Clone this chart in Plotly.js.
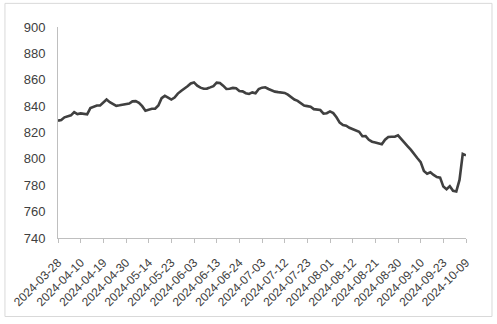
<!DOCTYPE html>
<html>
<head>
<meta charset="utf-8">
<script src="https://cdn.plot.ly/plotly-3.0.1.min.js"></script>
<style>
html,body{margin:0;padding:0;background:#fff;}
#chart{width:497px;height:324px;}
</style>
</head>
<body>
<div id="chart"></div>
<script>
var dates = [
"2024-03-28","2024-03-29",
"2024-04-01","2024-04-02","2024-04-03","2024-04-08","2024-04-09","2024-04-10","2024-04-11","2024-04-12",
"2024-04-15","2024-04-16","2024-04-17","2024-04-18","2024-04-19","2024-04-22","2024-04-23","2024-04-24","2024-04-25","2024-04-26",
"2024-04-29","2024-04-30",
"2024-05-06","2024-05-07","2024-05-08","2024-05-09","2024-05-10","2024-05-13","2024-05-14","2024-05-15","2024-05-16","2024-05-17",
"2024-05-20","2024-05-21","2024-05-22","2024-05-23","2024-05-24","2024-05-27","2024-05-28","2024-05-29","2024-05-30","2024-05-31",
"2024-06-03","2024-06-04","2024-06-05","2024-06-06","2024-06-07","2024-06-11","2024-06-12","2024-06-13","2024-06-14",
"2024-06-17","2024-06-18","2024-06-19","2024-06-20","2024-06-21","2024-06-24","2024-06-25","2024-06-26","2024-06-27","2024-06-28",
"2024-07-01","2024-07-02","2024-07-03","2024-07-04","2024-07-05","2024-07-08","2024-07-09","2024-07-10","2024-07-11","2024-07-12",
"2024-07-15","2024-07-16","2024-07-17","2024-07-18","2024-07-19","2024-07-22","2024-07-23","2024-07-24","2024-07-25","2024-07-26",
"2024-07-29","2024-07-30","2024-07-31",
"2024-08-01","2024-08-02","2024-08-05","2024-08-06","2024-08-07","2024-08-08","2024-08-09","2024-08-12","2024-08-13","2024-08-14",
"2024-08-15","2024-08-16","2024-08-19","2024-08-20","2024-08-21","2024-08-22","2024-08-23","2024-08-26","2024-08-27","2024-08-28",
"2024-08-29","2024-08-30",
"2024-09-02","2024-09-03","2024-09-04","2024-09-05","2024-09-06","2024-09-09","2024-09-10","2024-09-11","2024-09-12","2024-09-13",
"2024-09-18","2024-09-19","2024-09-20","2024-09-23","2024-09-24","2024-09-25","2024-09-26","2024-09-27","2024-09-30",
"2024-10-08","2024-10-09"
];

var values = [
829, 829.5, 831.5, 832.5, 833, 835.5, 834, 834.5, 834, 833.8,
838.5, 839.5, 840.5, 840.5, 842.5, 845, 843, 841.5, 840.2, 840.6,
841, 841.4, 842, 843.6, 843.8, 842.5, 840, 836.5, 837.5, 838,
838, 840.5, 846, 847.8, 846.5, 845, 846.5, 849.5, 851.5, 853,
855, 857.2, 858, 855.5, 854, 853.2, 853.3, 854.2, 855.2, 857.8,
857.6, 855.5, 853, 853.2, 853.8, 853.6, 851.5, 851.2, 849.8, 849.2,
850.4, 849.7, 853, 854, 854.3, 853, 851.8, 851, 850.6, 850.5,
850, 848.7, 846.5, 845, 844, 842.5, 840.5, 840, 839.5, 837.7,
837.2, 837, 834.3, 834.6, 836, 834.7, 831.5, 827.5, 825.6, 825.2,
823.6, 822.7, 822, 820.5, 817.2, 817.3, 814.5, 813, 812.4, 811.9,
811, 814.5, 816.6, 816.8, 816.8, 817.8, 815.3, 812.5, 809.5, 806.8,
804, 800.5, 797.5, 790.8, 788.8, 789.8, 787.8, 786.2, 785.8, 779,
777, 779.3, 775.8, 775.3, 784, 803.8, 802.7
];

var xTickLabels = [
"2024-03-28","2024-04-10","2024-04-19","2024-04-30","2024-05-14","2024-05-23","2024-06-03",
"2024-06-13","2024-06-24","2024-07-03","2024-07-12","2024-07-23","2024-08-01","2024-08-12",
"2024-08-21","2024-08-30","2024-09-10","2024-09-23","2024-10-09"
];

var yTickVals = [740, 760, 780, 800, 820, 840, 860, 880, 900];

var trace = {
  x: dates,
  y: values,
  type: 'scatter',
  mode: 'lines',
  line: {color: '#404040', width: 2.6},
  hoverinfo: 'x+y'
};

var layout = {
  width: 497,
  height: 324,
  margin: {l: 58, r: 31, t: 27, b: 86, pad: 0},
  paper_bgcolor: '#ffffff',
  plot_bgcolor: '#ffffff',
  showlegend: false,
  font: {family: '"Liberation Sans", Arial, sans-serif', size: 12, color: '#404040'},
  xaxis: {
    type: 'category',
    range: [0, dates.length - 1],
    tickmode: 'array',
    tickvals: xTickLabels,
    ticktext: xTickLabels,
    tickangle: -45,
    ticks: 'outside',
    ticklen: 4,
    tickcolor: '#bfbfbf',
    tickwidth: 1,
    ticklabelstandoff: 8,
    showline: true,
    linecolor: '#bfbfbf',
    linewidth: 1,
    showgrid: false,
    zeroline: false,
    automargin: false,
    tickfont: {size: 12, color: '#404040'}
  },
  yaxis: {
    range: [740, 900],
    tickmode: 'array',
    tickvals: yTickVals,
    ticktext: yTickVals.map(String),
    ticks: 'outside',
    ticklen: 9,
    tickcolor: 'rgba(0,0,0,0)',
    showline: true,
    linecolor: '#bfbfbf',
    linewidth: 1,
    showgrid: false,
    zeroline: false,
    automargin: false,
    tickfont: {size: 13, color: '#404040'}
  },
  shapes: [{
    type: 'rect',
    xref: 'paper', yref: 'paper',
    x0: -0.13, x1: 1.0637,
    y0: -0.372, y1: 1.112,
    line: {color: '#d9d9d9', width: 1},
    fillcolor: 'rgba(0,0,0,0)',
    layer: 'below'
  }]
};

Plotly.newPlot('chart', [trace], layout, {staticPlot: true, displayModeBar: false});
</script>
</body>
</html>
